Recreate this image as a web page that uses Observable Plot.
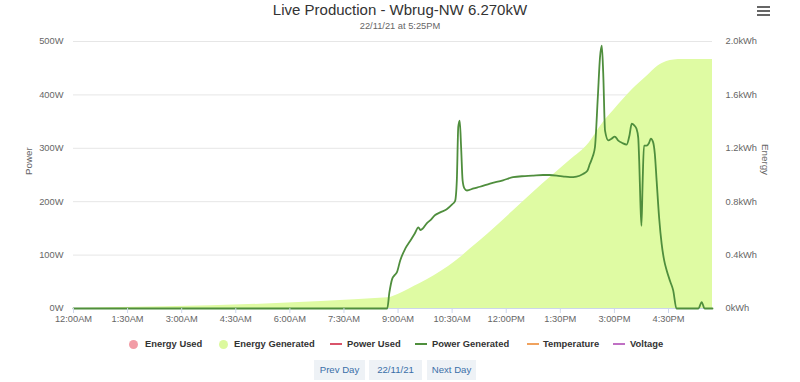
<!DOCTYPE html>
<html><head><meta charset="utf-8">
<script src="https://cdn.jsdelivr.net/npm/d3@7"></script>
<script src="https://cdn.jsdelivr.net/npm/@observablehq/plot@0.6"></script>
<style>
body{margin:0;background:#fff;font-family:"Liberation Sans",Arial,Helvetica,sans-serif;}
#wrap{position:relative;width:800px;height:382px;overflow:hidden;background:#fff;}
#chart{position:absolute;left:0;top:0;}
.abs{position:absolute;white-space:nowrap;}
#t1{left:0;width:800px;text-align:center;top:1px;font-size:15px;color:#333;}
#t2{left:0;width:800px;text-align:center;top:20.5px;font-size:9.3px;color:#666;}
.burger{position:absolute;left:757px;width:13px;height:2px;background:#666;}
.leg{position:absolute;top:338px;font-size:9.4px;font-weight:bold;color:#333;line-height:12px;}
.dot{position:absolute;width:9px;height:9px;border-radius:50%;top:339.5px;}
.ln{position:absolute;width:12px;height:2px;top:343px;}
.btn{position:absolute;top:360px;height:20px;line-height:20px;background:#eef2f6;color:#3a6fa8;font-size:9.6px;text-align:center;}
</style></head><body>
<div id="wrap">
  <div id="chart"></div>
  <div class="abs" id="t1"></div>
  <div class="abs" id="t2"></div>
  <div class="burger" style="top:6px"></div>
  <div class="burger" style="top:10px"></div>
  <div class="burger" style="top:14px"></div>
  <div id="legend"></div>
  <div id="buttons"></div>
</div>
<script>
const titleText = "Live Production - Wbrug-NW 6.270kW";
const subtitleText = "22/11/21 at 5:25PM";

// Power Generated (W) by hour of day
const powerHours = [0, 8.70, 8.76, 8.84, 8.90, 8.97, 9.06, 9.20, 9.34, 9.46, 9.565, 9.62, 9.69, 9.79, 9.89, 10.03, 10.17, 10.35, 10.50, 10.58, 10.63, 10.67, 10.71, 10.75, 10.79, 10.84, 10.91, 11.10, 11.27, 11.55, 11.91, 12.19, 12.52, 12.75, 13.02, 13.20, 13.40, 13.60, 13.77, 13.95, 14.13, 14.25, 14.32, 14.40, 14.46, 14.54, 14.60, 14.65, 14.69, 14.74, 14.83, 14.92, 15.01, 15.10, 15.22, 15.34, 15.42, 15.48, 15.55, 15.61, 15.66, 15.69, 15.72, 15.75, 15.78, 15.82, 15.89, 15.96, 16.01, 16.07, 16.12, 16.17, 16.24, 16.31, 16.38, 16.45, 16.55, 16.63, 16.72, 17.00, 17.33, 17.42, 17.50, 17.72];
const powerWatts = [0, 0, 30, 56, 62, 68, 90, 112, 127, 140, 152, 147, 150, 159, 165, 175, 180, 186, 195, 201, 240, 340, 352, 300, 240, 225, 221, 225, 228, 234, 240, 246, 248, 249, 250, 250, 249, 247, 246, 247, 252, 258, 271, 285, 302, 396, 470, 492, 440, 333, 315, 318, 322, 315, 310, 307, 325, 346, 343, 337, 320, 271, 200, 155, 230, 305, 305, 310, 318, 312, 290, 240, 170, 121, 90, 71, 50, 34, 0, 0, 0, 12, 0, 0];

// Energy Generated (kWh), cumulative
const energyHours = [0, 8.72, 9.0, 9.3, 9.61, 10.0, 10.4, 10.72, 11.0, 11.5, 12.19, 13.0, 13.77, 14.3, 14.68, 15.0, 15.5, 15.9, 16.2, 16.45, 16.65, 16.9, 17.72];
const energyKWh = [0, 0.08, 0.105, 0.145, 0.187, 0.245, 0.315, 0.38, 0.445, 0.56, 0.73, 0.93, 1.11, 1.24, 1.39, 1.49, 1.64, 1.74, 1.815, 1.85, 1.862, 1.865, 1.865];

const xTickHours = [0, 1.5, 3, 4.5, 6, 7.5, 9, 10.5, 12, 13.5, 15, 16.5];
const xTickLabels = ["12:00AM", "1:30AM", "3:00AM", "4:30AM", "6:00AM", "7:30AM", "9:00AM", "10:30AM", "12:00PM", "1:30PM", "3:00PM", "4:30PM"];
const powerTicks = [0, 100, 200, 300, 400, 500];
const powerTickLabels = ["0W", "100W", "200W", "300W", "400W", "500W"];
const energyTicks = [0, 0.4, 0.8, 1.2, 1.6, 2.0];
const energyTickLabels = ["0kWh", "0.4kWh", "0.8kWh", "1.2kWh", "1.6kWh", "2.0kWh"];

const legendLabels = ["Energy Used", "Energy Generated", "Power Used", "Power Generated", "Temperature", "Voltage"];
const legendKinds = ["dot", "dot", "line", "line", "line", "line"];
const legendColors = ["#f29ca6", "#dcf99e", "#d9536a", "#4f8f3d", "#f0a25e", "#c070c4"];
const buttonLabels = ["Prev Day", "22/11/21", "Next Day"];

const energyScale = 250; // 2.0 kWh on the right axis == 500 W on the left axis
const areaFill = "#dffba3";
const lineColor = "#4f8e3d";

const powerData = powerHours.map((h, i) => ({h, w: powerWatts[i]}));
const energyData = energyHours.map((h, i) => ({h, e: energyKWh[i] * energyScale}));
const energyTickPos = energyTicks.map(v => v * energyScale);

document.getElementById("t1").textContent = titleText;
document.getElementById("t2").textContent = subtitleText;

const chart = Plot.plot({
  width: 800,
  height: 330,
  marginLeft: 73,
  marginRight: 88,
  marginTop: 41,
  marginBottom: 22,
  style: {fontFamily: '"Liberation Sans", Arial, sans-serif', fontSize: "9.3px", color: "#666", background: "transparent", overflow: "visible"},
  x: {domain: [0, 17.72]},
  y: {domain: [0, 500]},
  marks: [
    Plot.gridY(powerTicks, {stroke: "#e6e6e6", strokeOpacity: 1}),
    Plot.areaY(energyData, {x: "h", y: "e", fill: areaFill, fillOpacity: 1, curve: "monotone-x"}),
    Plot.ruleY([0], {stroke: "#ccd6eb"}),
    Plot.lineY(powerData, {x: "h", y: "w", stroke: lineColor, strokeWidth: 1.8, curve: "monotone-x"}),
    Plot.axisX(xTickHours, {tickSize: 5, stroke: "#ccd6eb", tickPadding: 2, label: null, tickFormat: d => xTickLabels[xTickHours.indexOf(d)]}),
    Plot.axisY(powerTicks, {anchor: "left", tickSize: 0, tickPadding: 10, label: null, tickFormat: d => powerTickLabels[powerTicks.indexOf(d)]}),
    Plot.axisY(energyTickPos, {anchor: "right", tickSize: 0, tickPadding: 13, label: null, tickFormat: d => energyTickLabels[energyTickPos.indexOf(d)]}),
    Plot.text(["Power"], {frameAnchor: "left", dx: -45, rotate: -90, fontSize: 9.8, fill: "#666"}),
    Plot.text(["Energy"], {frameAnchor: "right", dx: 53, rotate: 90, fontSize: 9.8, fill: "#666"})
  ]
});
document.getElementById("chart").appendChild(chart);

// legend
const legend = document.getElementById("legend");
const markX = [133, 223, 330, 415, 527, 613];
const textX = [145, 234, 347, 432, 543, 630];
legendLabels.forEach((lab, i) => {
  const m = document.createElement("div");
  if (legendKinds[i] === "dot") {
    m.className = "dot";
    m.style.left = (markX[i] - 4.5) + "px";
  } else {
    m.className = "ln";
    m.style.left = markX[i] + "px";
  }
  m.style.background = legendColors[i];
  legend.appendChild(m);
  const t = document.createElement("div");
  t.className = "leg";
  t.style.left = textX[i] + "px";
  t.textContent = lab;
  legend.appendChild(t);
});

// buttons
const btnLeft = [314, 369, 427];
const btnW = [51, 53, 49];
const buttons = document.getElementById("buttons");
buttonLabels.forEach((lab, i) => {
  const b = document.createElement("div");
  b.className = "btn";
  b.style.left = btnLeft[i] + "px";
  b.style.width = btnW[i] + "px";
  b.textContent = lab;
  buttons.appendChild(b);
});
</script>
</body></html>
